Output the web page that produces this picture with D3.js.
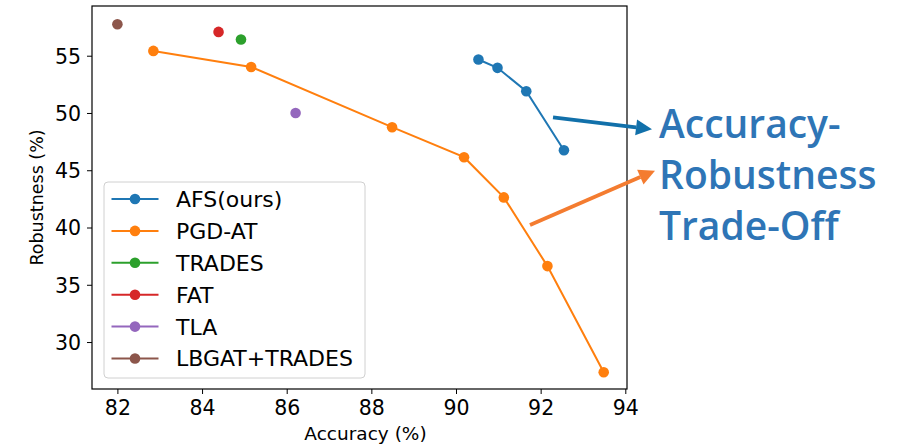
<!DOCTYPE html>
<html><head><meta charset="utf-8">
<script src="https://cdn.jsdelivr.net/npm/d3@7"></script>
<style>body{margin:0;background:#fff}svg{display:block}</style>
</head><body>
<svg id="c" width="907" height="446"></svg>
<script>
const seriesNames = ["AFS(ours)", "PGD-AT", "TRADES", "FAT", "TLA", "LBGAT+TRADES"];
const seriesColors = ["#1f77b4", "#ff7f0e", "#2ca02c", "#d62728", "#9467bd", "#8c564b"];
const afsAcc = [90.53, 90.98, 91.66, 92.55];
const afsRob = [54.67, 53.94, 51.90, 46.75];
const pgdAcc = [82.85, 85.16, 88.49, 90.19, 91.13, 92.16, 93.49];
const pgdRob = [55.42, 54.02, 48.76, 46.14, 42.63, 36.63, 27.36];
const tradesAcc = [84.92]; const tradesRob = [56.41];
const fatAcc = [84.39]; const fatRob = [57.08];
const tlaAcc = [86.21]; const tlaRob = [50.0];
const lbgatAcc = [82.0]; const lbgatRob = [57.75];
const xTicks = [82, 84, 86, 88, 90, 92, 94];
const yTicks = [30, 35, 40, 45, 50, 55];
const annotationLines = ["Accuracy-", "Robustness", "Trade-Off"];

const series = [
  [afsAcc, afsRob], [pgdAcc, pgdRob], [tradesAcc, tradesRob],
  [fatAcc, fatRob], [tlaAcc, tlaRob], [lbgatAcc, lbgatRob]
].map((d, i) => ({name: seriesNames[i], color: seriesColors[i],
  pts: d[0].map((a, j) => ({x: a, y: d[1][j]}))}));

const svg = d3.select("#c");
const L = 92, R = 627, T = 6, B = 389;
const x = d3.scaleLinear().domain([81.40, 94.04]).range([L, R]);
const y = d3.scaleLinear().domain([25.9, 59.34]).range([B, T]);
const font = "DejaVu Sans, sans-serif";

// axes
const xa = svg.append("g").attr("transform", `translate(0,${B})`)
  .call(d3.axisBottom(x).tickValues(xTicks).tickSize(5).tickPadding(5).tickFormat(d3.format("d")));
const ya = svg.append("g").attr("transform", `translate(${L},0)`)
  .call(d3.axisLeft(y).tickValues(yTicks).tickSize(5).tickPadding(6).tickFormat(d3.format("d")));
[xa, ya].forEach(g => {
  g.select(".domain").remove();
  g.selectAll("text").attr("font-family", font).attr("font-size", 20.5).attr("fill", "#000");
  g.selectAll("line").attr("stroke", "#000");
});
xa.selectAll("text").attr("dy", "0.78em");
ya.selectAll("text").attr("dy", "0.36em");

svg.append("rect").attr("x", L).attr("y", T).attr("width", R - L).attr("height", B - T)
  .attr("fill", "none").attr("stroke", "#000").attr("stroke-width", 1.2);

svg.append("text").attr("x", (L + R) / 2 + 6).attr("y", 440).attr("text-anchor", "middle")
  .attr("font-family", font).attr("font-size", 18.5).text("Accuracy (%)");
svg.append("text").attr("transform", `translate(43,${(T + B) / 2}) rotate(-90)`)
  .attr("text-anchor", "middle").attr("font-family", font).attr("font-size", 17.5).text("Robustness (%)");

// data
const line = d3.line().x(d => x(d.x)).y(d => y(d.y));
series.forEach(s => {
  if (s.pts.length > 1)
    svg.append("path").datum(s.pts).attr("d", line).attr("fill", "none")
      .attr("stroke", s.color).attr("stroke-width", 2);
  svg.selectAll(null).data(s.pts).enter().append("circle")
    .attr("cx", d => x(d.x)).attr("cy", d => y(d.y)).attr("r", 5.3).attr("fill", s.color);
});

// legend
const lg = svg.append("g");
lg.append("rect").attr("x", 104).attr("y", 182).attr("width", 261).attr("height", 196)
  .attr("rx", 4).attr("fill", "#fff").attr("fill-opacity", 0.8).attr("stroke", "#d0d0d0");
series.forEach((s, i) => {
  const cy = 199 + i * 31.9;
  lg.append("line").attr("x1", 111.5).attr("x2", 158.5).attr("y1", cy).attr("y2", cy)
    .attr("stroke", s.color).attr("stroke-width", 2);
  lg.append("circle").attr("cx", 135).attr("cy", cy).attr("r", 5.3).attr("fill", s.color);
  lg.append("text").attr("x", 176).attr("y", cy).attr("dy", "0.36em")
    .attr("font-family", font).attr("font-size", 22).text(s.name);
});

// annotation arrows
function arrow(x1, y1, x2, y2, color) {
  const ang = Math.atan2(y2 - y1, x2 - x1);
  const hl = 16, hw = 8;
  const bx = x2 - hl * Math.cos(ang), by = y2 - hl * Math.sin(ang);
  svg.append("line").attr("x1", x1).attr("y1", y1).attr("x2", bx).attr("y2", by)
    .attr("stroke", color).attr("stroke-width", 3.8);
  const px = -Math.sin(ang) * hw, py = Math.cos(ang) * hw;
  svg.append("path").attr("d", `M${x2},${y2}L${bx + px},${by + py}L${bx - px},${by - py}Z`).attr("fill", color);
}
arrow(553, 117.3, 652, 129.3, "#1170aa");
arrow(530, 225, 655, 170.7, "#f47c30");

annotationLines.forEach((t, i) => {
  svg.append("text").attr("x", 659).attr("y", 138 + i * 51).attr("font-family", "Open Sans, sans-serif")
    .attr("font-weight", 600).attr("font-size", 39).attr("fill", "#2e75b6").text(t);
});
</script>
</body></html>
